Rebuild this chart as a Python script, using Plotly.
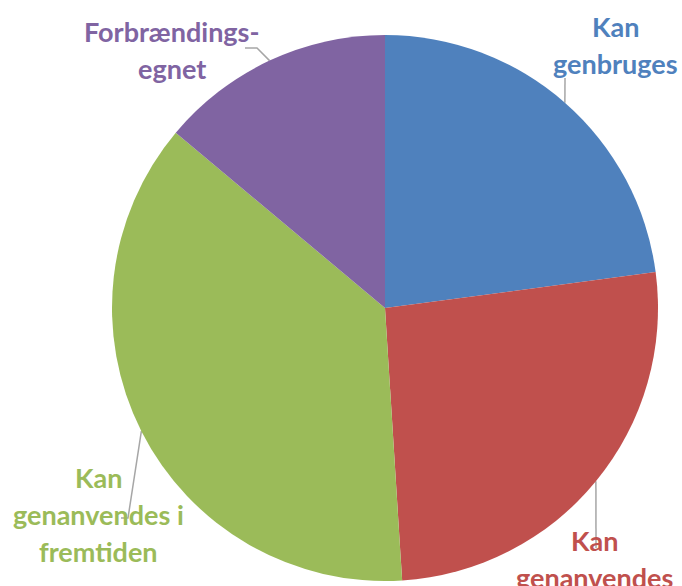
import math
import plotly.graph_objects as go

labels = ["Kan genbruges", "Kan genanvendes", "Kan genanvendes i fremtiden", "Forbrændings-egnet"]
values = [22.9, 26.1, 37.1, 13.9]
colors = ["#4F81BD", "#C0504D", "#9BBB59", "#8064A2"]
label_lines = [["Kan", "genbruges"], ["Kan", "genanvendes"], ["Kan", "genanvendes i", "fremtiden"], ["Forbrændings-", "egnet"]]

W, H = 682, 586
CX, CY, R = 385, 308, 273

# label text layout (pixel centre x, first-line y, line step)
label_pos = [(615, 26, 37), (594, 540, 37), (98, 477, 37), (172, 31, 37)]
# leader line bend/end points (label side)
leader_end = [[(565, 78)], [(596, 548)], [(128, 518), (121, 518)], [(257, 48), (245, 48)]]

fig = go.Figure()
fig.add_trace(go.Pie(
    labels=labels, values=values, sort=False, direction="clockwise", rotation=0,
    marker=dict(colors=colors, line=dict(width=0)),
    textinfo="none", hoverinfo="label+percent", showlegend=False,
    domain=dict(x=[(CX - R) / W, (CX + R) / W], y=[(H - CY - R) / H, (H - CY + R) / H]),
))

total = sum(values)
cum = 0
for i, v in enumerate(values):
    mid = (cum + v / 2) / total * 2 * math.pi
    cum += v
    ex, ey = CX + R * math.sin(mid), CY - R * math.cos(mid)
    xs = [ex] + [p[0] for p in leader_end[i]]
    ys = [ey] + [p[1] for p in leader_end[i]]
    fig.add_trace(go.Scatter(x=xs, y=ys, mode="lines", line=dict(color="#A6A6A6", width=1.5),
                             hoverinfo="skip", showlegend=False))
    lx, ly, step = label_pos[i]
    for j, t in enumerate(label_lines[i]):
        fig.add_annotation(x=lx, y=ly + j * step, text="<b>%s</b>" % t, showarrow=False,
                           xanchor="center", yanchor="middle",
                           font=dict(family="Lato", size=27, color=colors[i]))

fig.update_layout(
    width=W, height=H, margin=dict(l=0, r=0, t=0, b=0),
    paper_bgcolor="white", plot_bgcolor="rgba(0,0,0,0)",
    xaxis=dict(range=[0, W], visible=False, fixedrange=True),
    yaxis=dict(range=[H, 0], visible=False, fixedrange=True),
)
fig.write_html("out.html", config={"displayModeBar": False},
               post_script="document.body.style.margin='0';document.body.style.overflow='hidden';")
